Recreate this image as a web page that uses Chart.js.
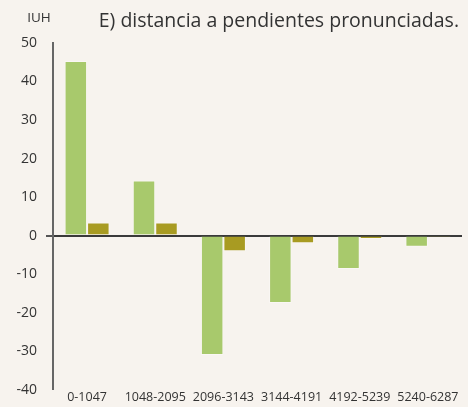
<!DOCTYPE html>
<html>
<head>
<meta charset="utf-8">
<script src="https://cdn.jsdelivr.net/npm/chart.js@4/dist/chart.umd.min.js"></script>
<style>
  html, body { margin:0; padding:0; background:#f7f3ee; }
  #wrap { width:468px; height:407px; position:relative; }
</style>
</head>
<body>
<div id="wrap"><canvas id="chart" width="468" height="407"></canvas></div>
<script>
const categories = ['0-1047','1048-2095','2096-3143','3144-4191','4192-5239','5240-6287'];
const greenValues = [45.3, 14.3, -31.0, -17.5, -8.7, -2.9];
const oliveValues = [3.4, 3.4, -4.1, -2.0, -0.9, -0.4];
const yTicks = [50, 40, 30, 20, 10, 0, -10, -20, -30, -40];
const titleText = 'E) distancia a pendientes pronunciadas.';
const unitText = 'IUH';

const FONT = '"Open Sans", "Noto Sans", sans-serif';

// title + unit label
const labelsPlugin = {
  id: 'labels',
  afterDraw(chart){
    const ctx = chart.ctx;
    ctx.save();
    ctx.fillStyle = '#333';
    ctx.textBaseline = 'middle';
    ctx.font = '13.5px ' + FONT;
    ctx.textAlign = 'center';
    ctx.fillText(unitText, 39, 18);
    ctx.font = '19.5px ' + FONT;
    ctx.textAlign = 'right';
    ctx.fillText(titleText, 459, 21);
    ctx.restore();
  }
};

new Chart(document.getElementById('chart'), {
  type: 'bar',
  data: {
    labels: categories,
    datasets: [
      { data: greenValues, backgroundColor:'#a8c96c', borderColor:'rgba(255,255,255,0.35)', borderWidth:1, categoryPercentage:0.66, barPercentage:1 },
      { data: oliveValues, backgroundColor:'#a89b22', borderColor:'rgba(255,255,255,0.35)', borderWidth:1, categoryPercentage:0.66, barPercentage:1 }
    ]
  },
  options: {
    responsive:false,
    animation:false,
    layout:{ autoPadding:false, padding:{ top:43, right:6, left:0, bottom:0 } },
    plugins:{ legend:{display:false}, tooltip:{enabled:false} },
    scales:{
      x:{
        grid:{ display:false, drawTicks:false },
        border:{ display:false },
        ticks:{ color:'#333', font:{ size:12.5, family:FONT }, padding:0, maxRotation:0, autoSkip:false },
        afterFit(s){ s.height = 15; }
      },
      y:{
        min:-40, max:50,
        afterBuildTicks(s){ s.ticks = yTicks.map(v => ({ value:v })); },
        grid:{
          color: c => c.tick && c.tick.value === 0 ? '#3a3a3a' : 'rgba(0,0,0,0)',
          lineWidth: c => c.tick && c.tick.value === 0 ? 2 : 0,
          tickColor:'#555', tickLength:7, drawTicks:true
        },
        border:{ display:true, color:'#666', width:2 },
        ticks:{ color:'#333', font:{ size:14, family:FONT }, padding:9 },
        afterFit(s){ s.width = 53; }
      }
    }
  },
  plugins:[labelsPlugin]
});
</script>
</body>
</html>
